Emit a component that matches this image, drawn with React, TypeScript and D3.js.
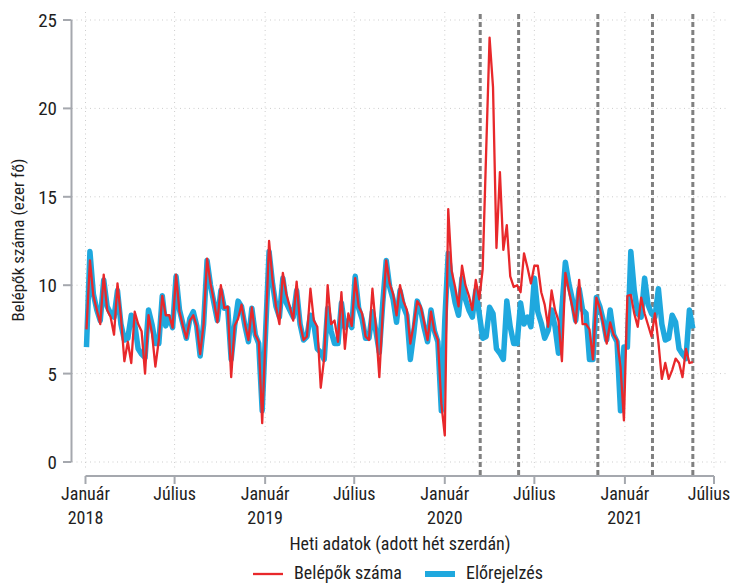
import React, { useEffect, useRef } from 'react';
import * as d3 from 'd3';

// heti adatok, 2018-01-03-tól (szerdák)
const startDate = new Date(Date.UTC(2018, 0, 3));

const belepok = [
  7.5, 11.4, 9.4, 8.6, 7.8, 10.6, 8.6, 8.2, 7.2, 10.1,
  8.2, 5.7, 6.8, 5.6, 8.5, 7.8, 7.4, 5.0, 8.3, 7.3,
  5.4, 6.9, 9.4, 8.3, 8.3, 7.6, 10.6, 8.5, 7.7, 7.0,
  8.0, 8.3, 7.7, 6.1, 7.8, 11.5, 10.1, 9.1, 7.9, 10.0,
  8.7, 8.8, 4.8, 7.7, 8.1, 8.9, 7.8, 6.9, 8.75, 7.2,
  6.8, 2.2, 7.3, 12.5, 10.3, 8.8, 7.8, 10.7, 9.5, 8.8,
  8.0, 10.2, 7.8, 6.9, 7.1, 9.8, 8.0, 7.65, 4.2, 5.9,
  10.0, 7.8, 8.0, 6.8, 9.6, 6.4, 8.4, 7.7, 10.4, 8.8,
  8.4, 7.1, 6.9, 9.8, 7.65, 4.8, 8.5, 11.4, 10.1, 9.5,
  8.3, 10.0, 9.1, 8.6, 6.7, 7.8, 9.1, 8.8, 7.9, 6.9,
  8.5, 7.4, 6.9, 3.3, 1.5, 14.3, 10.8, 9.9, 8.8, 11.1,
  10.0, 9.4, 8.6, 10.3, 9.2, 10.9, 17.5, 24.0, 21.2, 12.1,
  16.4, 12.0, 13.4, 10.5, 9.9, 10.0, 9.6, 11.8, 11.0, 10.1,
  11.1, 11.1, 9.6, 8.9, 7.65, 9.7, 8.6, 8.0, 5.7, 10.7,
  9.7, 8.8, 7.85, 10.3, 7.8, 7.8, 7.5, 5.8, 9.3, 8.7,
  7.8, 6.7, 7.9, 7.2, 6.9, 5.4, 2.35, 9.4, 9.45, 8.4,
  7.65, 9.3, 8.4, 7.75, 7.1, 8.4, 6.8, 4.7, 5.6, 4.7,
  5.2, 5.85, 5.6, 4.8, 6.4, 5.6, 5.65,
];

const elorejelzes = [
  6.5, 11.9, 9.5, 8.6, 8.0, 10.3, 8.8, 8.4, 8.2, 9.7,
  7.8, 6.9, 7.0, 8.3, 7.8, 6.4, 6.1, 5.9, 8.6, 7.8,
  6.7, 6.7, 9.4, 7.7, 8.2, 7.6, 10.5, 8.6, 7.8, 7.0,
  8.1, 8.5, 7.7, 6.0, 7.8, 11.4, 10.0, 9.0, 8.0, 9.7,
  8.7, 8.7, 5.8, 7.7, 9.1, 8.8, 7.7, 6.8, 8.7, 7.2,
  6.7, 2.9, 7.4, 11.9, 10.1, 8.8, 8.2, 10.4, 9.0, 8.6,
  8.2, 9.7, 7.8, 6.9, 7.1, 8.3, 7.8, 6.4, 6.2, 5.8,
  8.7, 7.4, 6.7, 6.7, 9.0, 7.6, 8.0, 7.6, 10.5, 8.7,
  8.1, 7.0, 7.0, 8.5, 7.4, 6.2, 9.0, 11.4, 9.9, 9.2,
  7.9, 9.7, 8.8, 8.3, 5.8, 7.3, 9.1, 8.6, 7.6, 6.8,
  8.6, 7.4, 6.8, 2.9, 8.0, 11.8, 10.1, 9.0, 8.3, 10.4,
  9.2, 8.6, 8.2, 9.7, 8.4, 7.0, 7.1, 8.75, 8.4, 6.4,
  6.15, 5.8, 9.1, 7.65, 6.7, 6.7, 9.0, 7.8, 8.2, 7.65,
  10.4, 8.5, 7.85, 7.0, 7.45, 8.6, 7.65, 6.15, 8.7, 11.3,
  10.1, 9.2, 8.0, 9.8, 8.6, 8.4, 5.8, 5.8, 9.3, 8.8,
  8.0, 6.9, 8.6, 7.2, 6.8, 2.9, 6.5, 6.5, 11.9, 9.7,
  8.4, 8.2, 10.4, 8.9, 8.4, 8.2, 9.8, 7.8, 6.9, 7.0,
  8.3, 7.9, 6.4, 6.1, 5.85, 8.6, 7.55,
];

const phaseDates = ['2020-03-13', '2020-05-30', '2020-11-07', '2021-02-26', '2021-05-19'];

const yTicks = [0, 5, 10, 15, 20, 25];

const xTickDates = [
  '2018-01-01', '2018-07-01', '2019-01-01', '2019-07-01',
  '2020-01-01', '2020-07-01', '2021-01-01', '2021-07-01',
];
const xTickMonths = ['Január', 'Július', 'Január', 'Július', 'Január', 'Július', 'Január', 'Július'];
const xTickYears = ['2018', '', '2019', '', '2020', '', '2021', ''];

const FONT = '"Liberation Sans Narrow", "Roboto Condensed", "DejaVu Sans Condensed", sans-serif';
const RED = '#e8282b';
const BLUE = '#1fa8de';
const AXIS = '#a5a8ae';
const GRID = '#cdcdcd';
const TEXT = '#1e1e1e';

const App: React.FC = () => {
  const ref = useRef<SVGSVGElement | null>(null);

  useEffect(() => {
    const svg = d3.select(ref.current);
    svg.selectAll('*').remove();

    const parse = (s: string) => new Date(s + 'T00:00:00Z');
    const x = d3.scaleUtc()
      .domain([parse('2018-01-01'), parse('2021-07-01')])
      .range([85.5, 714]);
    const y = d3.scaleLinear().domain([0, 25]).range([462, 20]);

    const dates = belepok.map((_, i) => d3.utcDay.offset(startDate, 7 * i));

    // rácsvonalak
    svg.append('g')
      .selectAll('line')
      .data(yTicks)
      .enter().append('line')
      .attr('x1', 72).attr('x2', 726)
      .attr('y1', d => y(d)).attr('y2', d => y(d))
      .attr('stroke', GRID)
      .attr('stroke-width', 1)
      .attr('stroke-dasharray', '1,3.5');

    svg.append('g')
      .selectAll('line')
      .data(xTickDates)
      .enter().append('line')
      .attr('x1', d => x(parse(d))).attr('x2', d => x(parse(d)))
      .attr('y1', 12).attr('y2', 470)
      .attr('stroke', GRID)
      .attr('stroke-width', 1)
      .attr('stroke-dasharray', '1,3.5');

    // szakaszhatárok
    svg.append('g')
      .selectAll('line')
      .data(phaseDates)
      .enter().append('line')
      .attr('x1', d => x(parse(d))).attr('x2', d => x(parse(d)))
      .attr('y1', 14).attr('y2', 475)
      .attr('stroke', '#808080')
      .attr('stroke-width', 3)
      .attr('stroke-dasharray', '5,3');

    const line = d3.line<number>()
      .x((_, i) => x(dates[i]))
      .y(d => y(d));

    svg.append('path')
      .datum(elorejelzes)
      .attr('d', line)
      .attr('fill', 'none')
      .attr('stroke', BLUE)
      .attr('stroke-width', 5.5)
      .attr('stroke-linejoin', 'round');

    svg.append('path')
      .datum(belepok)
      .attr('d', line)
      .attr('fill', 'none')
      .attr('stroke', RED)
      .attr('stroke-width', 2.3)
      .attr('stroke-linejoin', 'round');

    // y tengely
    const yAxis = svg.append('g');
    yAxis.append('line')
      .attr('x1', 71.5).attr('x2', 71.5)
      .attr('y1', 20).attr('y2', 462)
      .attr('stroke', AXIS).attr('stroke-width', 2);
    yAxis.selectAll('line.tick')
      .data(yTicks)
      .enter().append('line')
      .attr('class', 'tick')
      .attr('x1', 63).attr('x2', 71.5)
      .attr('y1', d => y(d)).attr('y2', d => y(d))
      .attr('stroke', AXIS).attr('stroke-width', 2);
    yAxis.selectAll('text')
      .data(yTicks)
      .enter().append('text')
      .attr('x', 57)
      .attr('y', d => y(d) + 7)
      .attr('text-anchor', 'end')
      .attr('font-family', FONT)
      .attr('font-size', 19)
      .attr('fill', TEXT)
      .text(d => d);

    svg.append('text')
      .attr('transform', 'translate(24,240) rotate(-90)')
      .attr('text-anchor', 'middle')
      .attr('font-family', FONT)
      .attr('font-size', 17)
      .attr('fill', TEXT)
      .text('Belépők száma (ezer fő)');

    // x tengely
    const xAxis = svg.append('g');
    xAxis.append('line')
      .attr('x1', x(parse(xTickDates[0]))).attr('x2', x(parse(xTickDates[xTickDates.length - 1])))
      .attr('y1', 476).attr('y2', 476)
      .attr('stroke', AXIS).attr('stroke-width', 2);
    xAxis.selectAll('line.tick')
      .data(xTickDates)
      .enter().append('line')
      .attr('class', 'tick')
      .attr('x1', d => x(parse(d))).attr('x2', d => x(parse(d)))
      .attr('y1', 476).attr('y2', 484)
      .attr('stroke', AXIS).attr('stroke-width', 2);
    const labelX = (d: string, i: number) =>
      Math.min(x(parse(d)), 731 - 22);
    xAxis.selectAll('text.month')
      .data(xTickDates)
      .enter().append('text')
      .attr('class', 'month')
      .attr('x', labelX)
      .attr('y', 500)
      .attr('text-anchor', 'middle')
      .attr('font-family', FONT)
      .attr('font-size', 18)
      .attr('fill', TEXT)
      .text((_, i) => xTickMonths[i]);
    xAxis.selectAll('text.year')
      .data(xTickDates)
      .enter().append('text')
      .attr('class', 'year')
      .attr('x', labelX)
      .attr('y', 524)
      .attr('text-anchor', 'middle')
      .attr('font-family', FONT)
      .attr('font-size', 18)
      .attr('fill', TEXT)
      .text((_, i) => xTickYears[i]);

    svg.append('text')
      .attr('x', 400).attr('y', 550)
      .attr('text-anchor', 'middle')
      .attr('font-family', FONT)
      .attr('font-size', 18)
      .attr('fill', TEXT)
      .text('Heti adatok (adott hét szerdán)');

    // jelmagyarázat
    const legend = [
      { label: 'Belépők száma', color: RED, width: 2.3, x: 253 },
      { label: 'Előrejelzés', color: BLUE, width: 6, x: 425 },
    ];
    const lg = svg.append('g').selectAll('g').data(legend).enter().append('g');
    lg.append('line')
      .attr('x1', d => d.x).attr('x2', d => d.x + 30)
      .attr('y1', 574).attr('y2', 574)
      .attr('stroke', d => d.color)
      .attr('stroke-width', d => d.width);
    lg.append('text')
      .attr('x', d => d.x + 41)
      .attr('y', 579)
      .attr('font-family', FONT)
      .attr('font-size', 18)
      .attr('fill', TEXT)
      .text(d => d.label);
  }, []);

  return (
    <svg
      ref={ref}
      width={731}
      height={583}
      style={{ position: 'absolute', left: 0, top: 0, background: '#fff' }}
    />
  );
};

export default App;
